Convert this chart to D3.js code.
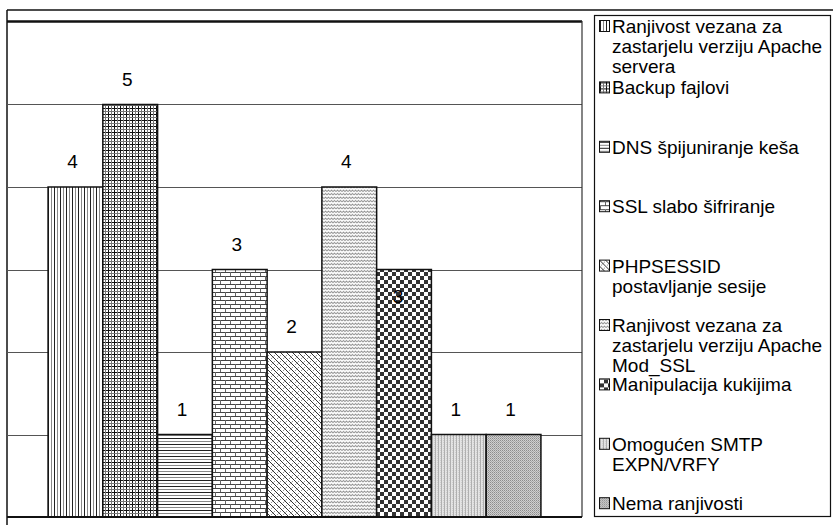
<!DOCTYPE html>
<html>
<head>
<meta charset="utf-8">
<script src="https://cdn.jsdelivr.net/npm/d3@7"></script>
<style>
  html, body { margin: 0; padding: 0; background: #fff; }
  svg { display: block; font-family: "Liberation Sans", Arial, sans-serif; }
</style>
</head>
<body>
<svg id="chart" width="833" height="525"></svg>
<script>
// Vulnerability counts per category
const categories = [
  "Ranjivost vezana za zastarjelu verziju Apache servera",
  "Backup fajlovi",
  "DNS špijuniranje keša",
  "SSL slabo šifriranje",
  "PHPSESSID postavljanje sesije",
  "Ranjivost vezana za zastarjelu verziju Apache Mod_SSL",
  "Manipulacija kukijima",
  "Omogućen SMTP EXPN/VRFY",
  "Nema ranjivosti"
];
const values = [4, 5, 1, 3, 2, 4, 3, 1, 1];
// Legend text, already broken into lines
const legendLines = [
  ["Ranjivost vezana za", "zastarjelu verziju Apache", "servera"],
  ["Backup fajlovi"],
  ["DNS špijuniranje keša"],
  ["SSL slabo šifriranje"],
  ["PHPSESSID", "postavljanje sesije"],
  ["Ranjivost vezana za", "zastarjelu verziju Apache", "Mod_SSL"],
  ["Manipulacija kukijima"],
  ["Omogućen SMTP", "EXPN/VRFY"],
  ["Nema ranjivosti"]
];
const gridValues = [1, 2, 3, 4, 5];

const svg = d3.select("#chart");
const defs = svg.append("defs");

// ---- fill patterns ----
function pattern(id, w, h, draw) {
  const p = defs.append("pattern")
    .attr("id", id).attr("patternUnits", "userSpaceOnUse")
    .attr("width", w).attr("height", h);
  p.append("rect").attr("width", w).attr("height", h).attr("fill", "#fff");
  draw(p);
}
const ln = (p, x1, y1, x2, y2, c, sw) => p.append("line")
  .attr("x1", x1).attr("y1", y1).attr("x2", x2).attr("y2", y2)
  .attr("stroke", c).attr("stroke-width", sw || 1);

// 0: vertical lines
pattern("p0", 6, 6, p => { ln(p, 0.5, 0, 0.5, 6, "#222"); ln(p, 3.5, 0, 3.5, 6, "#8a8a8a"); });
// 1: fine grid
pattern("p1", 6, 6, p => {
  ln(p, 0.5, 0, 0.5, 6, "#111"); ln(p, 0, 0.5, 6, 0.5, "#111");
  ln(p, 3.5, 0, 3.5, 6, "#777"); ln(p, 0, 3.5, 6, 3.5, "#777");
});
// 2: horizontal lines
pattern("p2", 6, 6, p => { ln(p, 0, 0.5, 6, 0.5, "#222"); ln(p, 0, 3.5, 6, 3.5, "#8a8a8a"); });
// 3: bricks
pattern("p3", 10, 8, p => {
  ln(p, 0, 0.5, 10, 0.5, "#444"); ln(p, 0, 4.5, 10, 4.5, "#444");
  ln(p, 0.5, 0, 0.5, 4, "#666"); ln(p, 5.5, 4, 5.5, 8, "#666");
});
// 4: wide diagonal with short cross dashes
pattern("p4", 6, 6, p => {
  ln(p, 0, 0, 6, 6, "#333"); ln(p, -1, 5, 1, 7, "#333"); ln(p, 5, -1, 7, 1, "#333");
  ln(p, 1, 5, 2.5, 3.5, "#999"); ln(p, 3.5, 2.5, 5, 1, "#999");
});
// 5: waves
pattern("p5", 6, 3.5, p => {
  p.append("path").attr("d", "M0,2.5 L1.5,1 L3,2.5 L4.5,1 L6,2.5")
    .attr("fill", "none").attr("stroke", "#7a7a7a").attr("stroke-width", 0.9);
});
// 6: checkerboard
pattern("p6", 8, 8, p => {
  p.append("rect").attr("x", 0).attr("y", 0).attr("width", 4).attr("height", 4).attr("fill", "#333");
  p.append("rect").attr("x", 4).attr("y", 4).attr("width", 4).attr("height", 4).attr("fill", "#333");
});
// 7: light fine vertical texture
pattern("p7", 3, 2, p => {
  p.select("rect").attr("fill", "#e4e4e4");
  ln(p, 0.5, 0, 0.5, 2, "#b0b0b0");
  p.append("rect").attr("x", 2).attr("y", 0).attr("width", 1).attr("height", 1).attr("fill", "#cfcfcf");
});
// 8: grey dots
pattern("p8", 2, 2, p => {
  p.select("rect").attr("fill", "#cfcfcf");
  p.append("rect").attr("x", 0).attr("y", 0).attr("width", 1).attr("height", 1).attr("fill", "#8c8c8c");
  p.append("rect").attr("x", 1).attr("y", 1).attr("width", 1).attr("height", 1).attr("fill", "#a8a8a8");
});

// ---- scales ----
const plot = { left: 7, right: 582, top: 22, bottom: 517 };
const x = d3.scaleBand().domain(d3.range(values.length))
  .range([plot.left, plot.right]).paddingInner(0).paddingOuter(0.75);
const y = d3.scaleLinear().domain([0, 6]).range([plot.bottom, plot.top]);

// outer frame
svg.append("line").attr("x1", 7).attr("x2", 833).attr("y1", 10).attr("y2", 10)
  .attr("stroke", "#111").attr("stroke-width", 1.5);
svg.append("line").attr("x1", 7).attr("x2", 7).attr("y1", 10).attr("y2", 525)
  .attr("stroke", "#111").attr("stroke-width", 1.5);

// gridlines
svg.append("g").selectAll("line").data(gridValues).join("line")
  .attr("x1", plot.left).attr("x2", plot.right)
  .attr("y1", d => Math.round(y(d)) + 0.5).attr("y2", d => Math.round(y(d)) + 0.5)
  .attr("stroke", "#555").attr("stroke-width", 1);

// plot border
svg.append("line").attr("x1", plot.left).attr("x2", plot.right).attr("y1", 21.5).attr("y2", 21.5)
  .attr("stroke", "#111").attr("stroke-width", 2.5);
svg.append("line").attr("x1", plot.right).attr("x2", plot.right).attr("y1", 21).attr("y2", plot.bottom)
  .attr("stroke", "#333").attr("stroke-width", 1.2);

// bars
svg.append("g").selectAll("rect").data(values).join("rect")
  .attr("x", (d, i) => x(i))
  .attr("y", d => y(d))
  .attr("width", x.bandwidth())
  .attr("height", d => y(0) - y(d))
  .attr("fill", (d, i) => `url(#p${i})`)
  .attr("stroke", "#111").attr("stroke-width", 1.5);

// baseline
svg.append("line").attr("x1", plot.left).attr("x2", plot.right).attr("y1", plot.bottom).attr("y2", plot.bottom)
  .attr("stroke", "#111").attr("stroke-width", 2);

// value labels (the 7th label sits inside its bar)
svg.append("g").selectAll("text").data(values).join("text")
  .attr("x", (d, i) => x(i) + x.bandwidth() / 2 - (i === 6 ? 6 : 3))
  .attr("y", (d, i) => i === 6 ? y(d) + 33 : y(d) - 19)
  .attr("text-anchor", "middle")
  .attr("font-size", 19).attr("fill", "#000")
  .text(d => d);

// legend
const lg = svg.append("g");
lg.append("rect").attr("x", 594.5).attr("y", 15.5).attr("width", 236).attr("height", 501)
  .attr("fill", "#fff").attr("stroke", "#111").attr("stroke-width", 1.2);
const entry = lg.selectAll("g.e").data(legendLines).join("g").attr("class", "e")
  .attr("transform", (d, i) => `translate(0,${(i === 0 ? 33 : 35) + i * 59.4})`);
entry.append("rect").attr("x", 599.5).attr("y", -12.5).attr("width", 10).attr("height", 11)
  .attr("fill", (d, i) => `url(#p${i})`).attr("stroke", "#111").attr("stroke-width", 1);
entry.append("text").attr("x", 612).attr("y", 0).attr("font-size", 19).attr("fill", "#000")
  .selectAll("tspan").data(d => d).join("tspan")
  .attr("x", 612).attr("y", (d, j) => j * 20)
  .text(d => d);
</script>
</body>
</html>
